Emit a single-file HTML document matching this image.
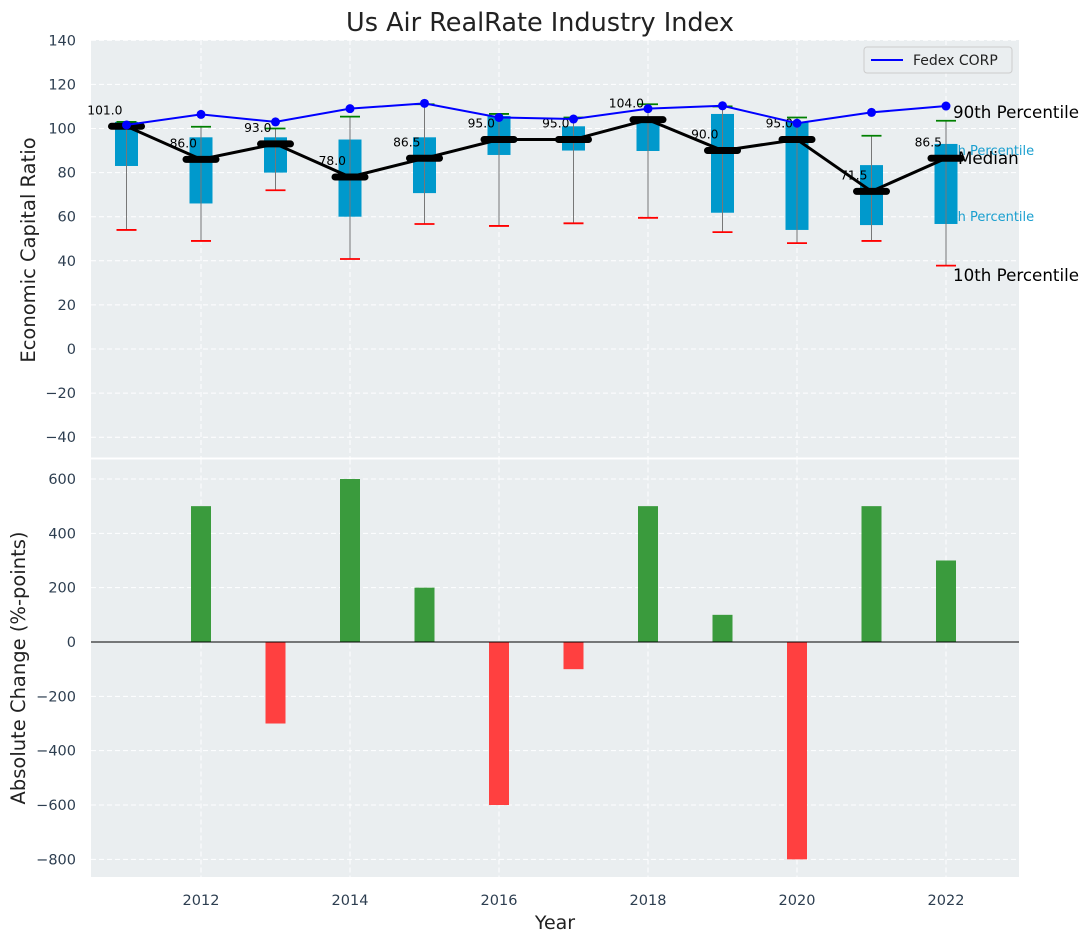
<!DOCTYPE html>
<html><head><meta charset="utf-8"><style>
body{margin:0;background:#fff}
svg{font-family:"DejaVu Sans","Liberation Sans",sans-serif}
</style></head><body>
<svg id="c" width="1088" height="942" xmlns="http://www.w3.org/2000/svg"></svg>
<script>
const years=[2011,2012,2013,2014,2015,2016,2017,2018,2019,2020,2021,2022];
const q1=[83,66,80,60,70.7,88,90,89.8,61.8,54,56.2,56.7];
const q3=[103,96,96,95,96,105.7,101,105,106.6,103,83.4,93];
const medians=[101,86,93,78,86.5,95,95,104,90,95,71.5,86.5];
const p90=[103,100.8,100,105.4,111,106.6,105,111,110,105,96.7,103.5];
const p10=[54,49,72,40.8,56.7,55.8,57,59.5,53,48,49,37.8];
const fedex=[101.6,106.4,103,109,111.4,105,104.3,109,110.3,102.4,107.3,110.2];
const changes=[0,500,-300,600,200,-600,-100,500,100,-800,500,300];
const topTicks=[140,120,100,80,60,40,20,0,-20,-40];
const botTicks=[600,400,200,0,-200,-400,-600,-800];
const xTicks=[2012,2014,2016,2018,2020,2022];

const NS="http://www.w3.org/2000/svg";
const svg=document.getElementById('c');
function el(t,a,p){const e=document.createElementNS(NS,t);for(const k in a)e.setAttribute(k,a[k]);(p||svg).appendChild(e);return e;}
const X=v=>126.5+(v-2011)*74.5;
const YT=v=>349-v*2.205;
const YB=v=>642-v*0.2717;
const L=91,R=1019;

let e=el('rect',{x:L,y:40,width:R-L,height:417.5,fill:'#eaeef0'});

e=el('rect',{x:L,y:459.5,width:R-L,height:417.5,fill:'#eaeef0'});


topTicks.forEach(t=>{el('line',{x1:L,x2:R,y1:YT(t),y2:YT(t),stroke:'#fff','stroke-dasharray':'5,3','stroke-width':1});});
botTicks.forEach(t=>{el('line',{x1:L,x2:R,y1:YB(t),y2:YB(t),stroke:'#fff','stroke-dasharray':'5,3','stroke-width':1});});
xTicks.forEach(t=>{el('line',{x1:X(t),x2:X(t),y1:40,y2:457.5,stroke:'#fff','stroke-dasharray':'5,3'});el('line',{x1:X(t),x2:X(t),y1:459.5,y2:877,stroke:'#fff','stroke-dasharray':'5,3'});});

topTicks.forEach(t=>{const s=el('text',{x:76,y:YT(t)+5,'text-anchor':'end','font-size':14.5,fill:'#2d3e50'});s.textContent=(t<0?'\u2212'+(-t):t);
});
botTicks.forEach(t=>{const s=el('text',{x:76,y:YB(t)+5,'text-anchor':'end','font-size':14.5,fill:'#2d3e50'});s.textContent=(t<0?'\u2212'+(-t):t);
});
xTicks.forEach(t=>{const s=el('text',{x:X(t),y:905,'text-anchor':'middle','font-size':14.5,fill:'#2d3e50'});s.textContent=t;
});

const ann=[['90th Percentile',953,118,16.7,'#000'],['75th Percentile',936,155,13,'#1a9fcf'],['Median',958,164,16.7,'#000'],['25th Percentile',936,221,13,'#1a9fcf'],['10th Percentile',953,281,16.7,'#000']];
ann.forEach(a=>{const s=el('text',{x:a[1],y:a[2],'font-size':a[3],fill:a[4]});s.textContent=a[0];
});

years.forEach((y,i)=>{
  const x=X(y);
  let b=el('rect',{x:x-11.5,y:YT(q3[i]),width:23,height:YT(q1[i])-YT(q3[i]),fill:'#0099cc'});
  
  el('line',{x1:x,x2:x,y1:YT(p10[i]),y2:YT(p90[i]),stroke:'#777','stroke-width':1});
  let g=el('line',{x1:x-10,x2:x+10,y1:YT(p90[i]),y2:YT(p90[i]),stroke:'#008000','stroke-width':1.8});
  
  let r=el('line',{x1:x-10,x2:x+10,y1:YT(p10[i]),y2:YT(p10[i]),stroke:'#ff0000','stroke-width':1.8});
  
});
let mp=el('polyline',{points:years.map((y,i)=>X(y)+','+YT(medians[i])).join(' '),fill:'none',stroke:'#000','stroke-width':3});

years.forEach((y,i)=>{
  let m=el('line',{x1:X(y)-15,x2:X(y)+15,y1:YT(medians[i]),y2:YT(medians[i]),stroke:'#000','stroke-width':7,'stroke-linecap':'round'});
  
  let t=el('text',{x:X(y)-4,y:YT(medians[i])-12,'text-anchor':'end','font-size':12.3,fill:'#000'});
  t.textContent=medians[i].toFixed(1);
  
});
let fp=el('polyline',{points:years.map((y,i)=>X(y)+','+YT(fedex[i])).join(' '),fill:'none',stroke:'#0000ff','stroke-width':2});

years.forEach((y,i)=>{let c=el('circle',{cx:X(y),cy:YT(fedex[i]),r:4.5,fill:'#0000ff'});
});

years.forEach((y,i)=>{
  const v=changes[i];if(v===0)return;
  let b=el('rect',{x:X(y)-10,y:Math.min(YB(v),YB(0)),width:20,height:Math.abs(YB(v)-YB(0)),fill:v>0?'#3a9b3d':'#ff4040'});
  
});
el('line',{x1:L,x2:R,y1:YB(0),y2:YB(0),stroke:'#000','stroke-width':1});

let lg=el('g',{});
el('rect',{x:864,y:47,width:148,height:26,rx:3,fill:'#eaeef0',stroke:'#ccc'},lg);
el('line',{x1:871,x2:903,y1:60,y2:60,stroke:'#0000ff','stroke-width':2},lg);
let lt=el('text',{x:913,y:65,'font-size':14,fill:'#222'},lg);lt.textContent='Fedex CORP';

let t=el('text',{x:540,y:31,'text-anchor':'middle','font-size':25.5,fill:'#222'});t.textContent='Us Air RealRate Industry Index';

t=el('text',{x:555,y:929,'text-anchor':'middle','font-size':19,fill:'#222'});t.textContent='Year';

t=el('text',{x:0,y:0,'text-anchor':'middle','font-size':19.5,fill:'#222',transform:'translate(35,250) rotate(-90)'});t.textContent='Economic Capital Ratio';

t=el('text',{x:0,y:0,'text-anchor':'middle','font-size':19.5,fill:'#222',transform:'translate(25,668) rotate(-90)'});t.textContent='Absolute Change (%-points)';

</script>
</body></html>
